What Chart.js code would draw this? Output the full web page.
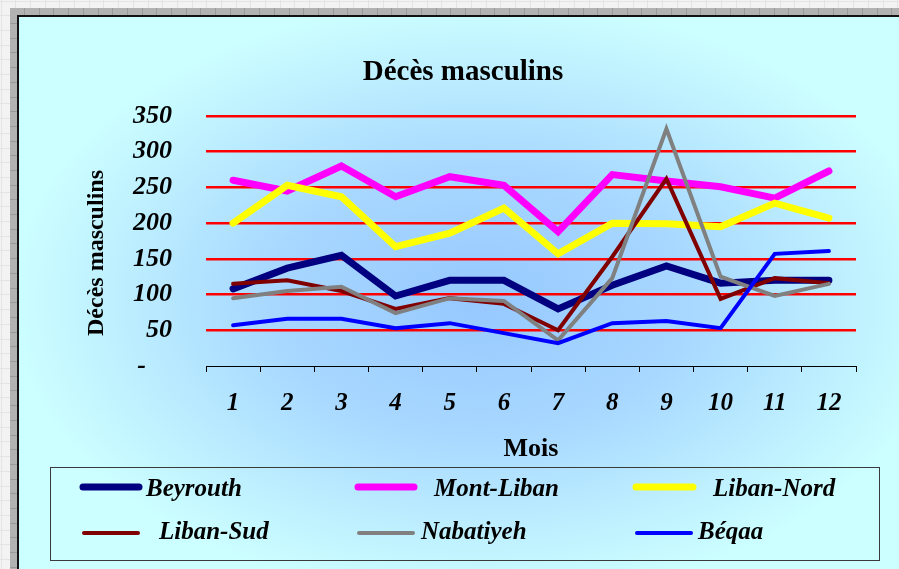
<!DOCTYPE html>
<html>
<head>
<meta charset="utf-8">
<script src="https://cdn.jsdelivr.net/npm/chart.js@4/dist/chart.umd.min.js"></script>
<style>
  html, body { margin: 0; padding: 0; background: #f3f3f3; }
  #wrap { position: relative; width: 899px; height: 569px; }
  canvas { display: block; }
</style>
</head>
<body>
<div id="wrap"><canvas id="c" width="899" height="569"></canvas></div>
<script>
// ---- data ----
const months = ['1', '2', '3', '4', '5', '6', '7', '8', '9', '10', '11', '12'];
const seriesNames = ['Beyrouth', 'Mont-Liban', 'Liban-Nord', 'Liban-Sud', 'Nabatiyeh', 'Béqaa'];
const beyrouth  = [108, 137, 155,  98, 120, 120,  80, 113, 140, 116, 120, 120];
const montLiban = [260, 245, 280, 237, 265, 253, 188, 268, 259, 251, 235, 273];
const libanNord = [200, 253, 237, 167, 186, 221, 157, 200, 199, 195, 228, 207];
const libanSud  = [115, 120, 105,  80,  95,  87,  50, 153, 262,  94, 123, 116];
const nabatiyeh = [ 95, 105, 111,  74,  95,  91,  36, 123, 332, 125,  98, 115];
const beqaa     = [ 57,  66,  66,  53,  60,  46,  32,  60,  63,  53, 157, 161];
const yTickValues = [0, 50, 100, 150, 200, 250, 300, 350];
const chartTitle = 'Décès masculins';
const yTitle = 'Décès masculins';
const xTitle = 'Mois';

// ---- styles ----
const colors = ['#000080', '#FF00FF', '#FFFF00', '#800000', '#808080', '#0000FF'];
const widths = [7, 7, 7, 4, 4, 4];
const values = [beyrouth, montLiban, libanNord, libanSud, nabatiyeh, beqaa];
const SERIF = "'Liberation Serif', 'DejaVu Serif', serif";

const datasets = values.map((v, i) => ({
  label: seriesNames[i],
  data: v,
  borderColor: colors[i],
  backgroundColor: colors[i],
  borderWidth: widths[i],
  pointRadius: 0,
  pointHoverRadius: 0,
  tension: 0,
  fill: false,
  borderCapStyle: 'round',
  borderJoinStyle: 'miter',
  order: values.length - i
}));

// background: page, frame, gradient fill
const bgPlugin = {
  id: 'bg',
  beforeDraw(chart) {
    const ctx = chart.ctx;
    const W = chart.width, H = chart.height;
    ctx.save();
    ctx.fillStyle = '#f3f3f3';
    ctx.fillRect(0, 0, W, H);
    ctx.strokeStyle = '#e4e4e4';
    ctx.lineWidth = 1;
    for (let x = 0.5; x < W; x += 14.7) { ctx.beginPath(); ctx.moveTo(Math.round(x) + 0.5, 0); ctx.lineTo(Math.round(x) + 0.5, H); ctx.stroke(); }
    for (let y = 0.5; y < H; y += 14.7) { ctx.beginPath(); ctx.moveTo(0, Math.round(y) + 0.5); ctx.lineTo(W, Math.round(y) + 0.5); ctx.stroke(); }
    // grey ruler strip
    ctx.fillStyle = '#b2b2b2';
    ctx.fillRect(10, 8, W - 10, 9);
    ctx.fillRect(10, 8, 9, H - 8);
    ctx.strokeStyle = '#9a9a9a';
    for (let x = 24; x < W; x += 14.7) { ctx.beginPath(); ctx.moveTo(Math.round(x) + 0.5, 8); ctx.lineTo(Math.round(x) + 0.5, 16); ctx.stroke(); }
    for (let y = 23; y < H; y += 14.7) { ctx.beginPath(); ctx.moveTo(10, Math.round(y) + 0.5); ctx.lineTo(18, Math.round(y) + 0.5); ctx.stroke(); }
    // black border
    ctx.fillStyle = '#111';
    ctx.fillRect(17, 15, W - 17, 2);
    ctx.fillRect(17, 15, 2, H - 15);
    // cyan fill with radial gradient
    ctx.beginPath();
    ctx.rect(19, 17, W - 19, H - 17);
    ctx.clip();
    ctx.fillStyle = '#CCFFFF';
    ctx.fillRect(19, 17, W - 19, H - 17);
    const cx = 480, cy = 300, rx = 470, ry = 300;
    ctx.translate(cx, cy);
    ctx.scale(rx / ry, 1);
    const g = ctx.createRadialGradient(0, 0, 0, 0, 0, ry);
    g.addColorStop(0, '#96C8FF');
    g.addColorStop(0.45, '#A8D8FF');
    g.addColorStop(1, '#CCFFFF');
    ctx.fillStyle = g;
    ctx.beginPath();
    ctx.arc(0, 0, ry, 0, Math.PI * 2);
    ctx.fill();
    ctx.restore();
  }
};

// custom legend box (3 columns x 2 rows)
const legendPlugin = {
  id: 'boxLegend',
  afterDraw(chart) {
    const ctx = chart.ctx;
    const slots = [
      { x0: 80,  x1: 142, tx: 146, y: 487, ty: 496 },
      { x0: 355, x1: 417, tx: 434, y: 487, ty: 496 },
      { x0: 633, x1: 696, tx: 713, y: 487, ty: 496 },
      { x0: 81,  x1: 141, tx: 159, y: 533, ty: 539 },
      { x0: 356, x1: 416, tx: 421, y: 533, ty: 539 },
      { x0: 634, x1: 694, tx: 698, y: 533, ty: 539 }
    ];
    ctx.save();
    ctx.strokeStyle = '#3a3a3a';
    ctx.lineWidth = 1;
    ctx.strokeRect(50.5, 467.5, 829, 93);
    chart.data.datasets.forEach((ds, i) => {
      const s = slots[i];
      ctx.strokeStyle = ds.borderColor;
      ctx.lineWidth = ds.borderWidth;
      ctx.lineCap = 'round';
      ctx.beginPath();
      ctx.moveTo(s.x0 + 3, s.y);
      ctx.lineTo(s.x1 - 3, s.y);
      ctx.stroke();
      ctx.fillStyle = '#000';
      ctx.font = 'italic bold 25px ' + SERIF;
      ctx.textAlign = 'left';
      ctx.textBaseline = 'alphabetic';
      ctx.fillText(ds.label, s.tx, s.ty);
    });
    ctx.restore();
  }
};

new Chart(document.getElementById('c'), {
  type: 'line',
  data: { labels: months, datasets },
  plugins: [bgPlugin, legendPlugin],
  options: {
    responsive: false,
    animation: false,
    devicePixelRatio: 1,
    layout: { padding: { left: 70, top: 30, right: 43, bottom: 103 } },
    plugins: {
      legend: { display: false },
      tooltip: { enabled: false },
      title: {
        display: true,
        text: chartTitle,
        color: '#000',
        font: { family: SERIF, size: 29, weight: 'bold' },
        padding: { top: 25.6, bottom: 25.6 }
      }
    },
    scales: {
      x: {
        type: 'category',
        offset: true,
        afterFit(scale) { scale.height = 100; },
        grid: { offset: true, drawOnChartArea: false, drawTicks: true, tickLength: 6, color: '#000', lineWidth: 1 },
        border: { display: true, color: '#000', width: 1 },
        ticks: { color: '#000', padding: 17, maxRotation: 0, font: { family: SERIF, size: 25, style: 'italic', weight: 'bold' } },
        title: { display: true, text: xTitle, color: '#000', padding: { top: 0, bottom: 1.4 }, font: { family: SERIF, size: 26, weight: 'bold' } }
      },
      y: {
        min: 0,
        max: 350,
        afterFit(scale) { scale.width = 136; },
        afterBuildTicks(scale) { scale.ticks = yTickValues.map(v => ({ value: v })); },
        grid: {
          drawTicks: false,
          color: ctx => (ctx.tick && ctx.tick.value === 0) ? 'rgba(0,0,0,0)' : '#FF0000',
          lineWidth: 2.5
        },
        border: { display: false },
        ticks: {
          color: '#000',
          padding: 34,
          font: { family: SERIF, size: 26, style: 'italic', weight: 'bold' },
          callback: v => v === 0 ? '-    ' : String(v)
        },
        title: { display: true, text: yTitle + '    ', color: '#000', padding: { top: 12.6, bottom: 0 }, font: { family: SERIF, size: 24, weight: 'bold' } }
      }
    }
  }
});
</script>
</body>
</html>
